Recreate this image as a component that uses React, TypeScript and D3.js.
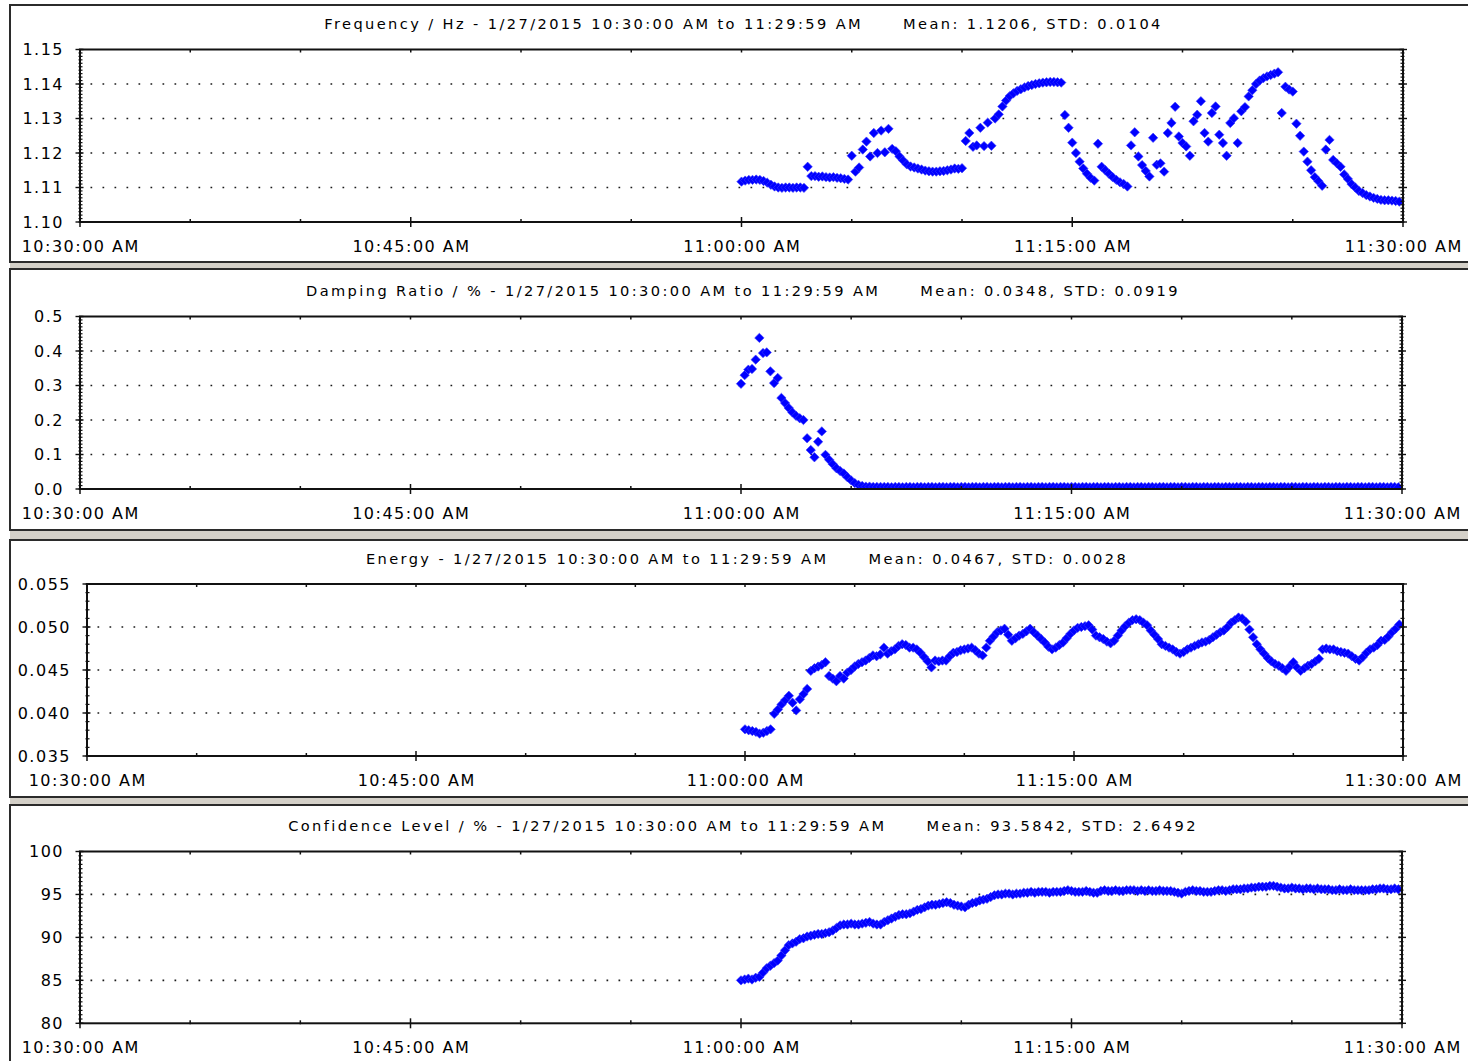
import React from "react";
import * as d3 from "d3";

// ---- time axis ----
const windowStart = new Date(2015, 0, 27, 10, 30, 0);
const windowEnd = new Date(2015, 0, 27, 11, 30, 0);
const sampleStart = new Date(2015, 0, 27, 11, 0, 0);
const sampleStepSec = 10;
const rangeText = "1/27/2015 10:30:00 AM to 11:29:59 AM";

// ---- series (one sample every 10 s from 11:00:00) ----
const frequency = [
  1.1117, 1.1120, 1.1122, 1.1122, 1.1123, 1.1122, 1.1119, 1.1114, 1.1108, 1.1103,
  1.1100, 1.1099, 1.1100, 1.1100, 1.1099, 1.1100, 1.1100, 1.1099, 1.1160, 1.1133,
  1.1133, 1.1131, 1.1132, 1.1130, 1.1129, 1.1130, 1.1128, 1.1127, 1.1125, 1.1123,
  1.1192, 1.1146, 1.1158, 1.1210, 1.1233, 1.1190, 1.1258, 1.1200, 1.1265, 1.1202,
  1.1270, 1.1212, 1.1205, 1.1190, 1.1178, 1.1167, 1.1161, 1.1158, 1.1155, 1.1152,
  1.1149, 1.1147, 1.1146, 1.1146, 1.1147, 1.1148, 1.1150, 1.1152, 1.1155, 1.1154,
  1.1156, 1.1235, 1.1258, 1.1218, 1.1222, 1.1273, 1.1220, 1.1288, 1.1221, 1.1300,
  1.1312, 1.1335, 1.1352, 1.1365, 1.1373, 1.1380, 1.1385, 1.1390, 1.1394, 1.1397,
  1.1400, 1.1402, 1.1404, 1.1405, 1.1406, 1.1406, 1.1405, 1.1404, 1.1310, 1.1273,
  1.1230, 1.1200, 1.1175, 1.1155, 1.1140, 1.1128, 1.1120, 1.1227, 1.1160, 1.1150,
  1.1140, 1.1130, 1.1122, 1.1115, 1.1110, 1.1103, 1.1222, 1.1260, 1.1190, 1.1165,
  1.1148, 1.1132, 1.1244, 1.1166, 1.1170, 1.1146, 1.1258, 1.1287, 1.1334, 1.1248,
  1.1229, 1.1219, 1.1192, 1.1292, 1.1311, 1.1350, 1.1258, 1.1233, 1.1316, 1.1335,
  1.1253, 1.1229, 1.1192, 1.1287, 1.1301, 1.1229, 1.1321, 1.1333, 1.1364, 1.1382,
  1.1400, 1.1410, 1.1417, 1.1422, 1.1426, 1.1430, 1.1434, 1.1316, 1.1392, 1.1384,
  1.1378, 1.1285, 1.1250, 1.1204, 1.1175, 1.1150, 1.1130, 1.1118, 1.1105, 1.1210,
  1.1238, 1.1180, 1.1170, 1.1160, 1.1138, 1.1125, 1.1110, 1.1100, 1.1090, 1.1084,
  1.1078, 1.1074, 1.1070, 1.1067, 1.1064, 1.1063, 1.1063, 1.1062, 1.1061, 1.1059,
];

const dampingRatio = [
  0.305, 0.330, 0.346, 0.348, 0.375, 0.438, 0.394, 0.396, 0.341, 0.307,
  0.322, 0.264, 0.249, 0.235, 0.222, 0.212, 0.205, 0.200, 0.147, 0.113,
  0.092, 0.137, 0.167, 0.099, 0.085, 0.072, 0.060, 0.052, 0.045, 0.034,
  0.025, 0.017, 0.012, 0.009, 0.007, 0.007, 0.006, 0.006, 0.006, 0.006,
  0.006, 0.005, 0.006, 0.006, 0.005, 0.006, 0.006, 0.005, 0.006, 0.006,
  0.005, 0.006, 0.006, 0.005, 0.006, 0.006, 0.005, 0.006, 0.006, 0.005,
  0.006, 0.006, 0.005, 0.006, 0.006, 0.005, 0.006, 0.006, 0.005, 0.006,
  0.006, 0.005, 0.006, 0.006, 0.005, 0.006, 0.006, 0.005, 0.006, 0.006,
  0.005, 0.006, 0.006, 0.005, 0.006, 0.006, 0.005, 0.006, 0.006, 0.005,
  0.006, 0.006, 0.005, 0.006, 0.006, 0.005, 0.006, 0.006, 0.005, 0.006,
  0.006, 0.005, 0.006, 0.006, 0.005, 0.006, 0.006, 0.005, 0.006, 0.006,
  0.005, 0.006, 0.006, 0.005, 0.006, 0.006, 0.005, 0.006, 0.006, 0.005,
  0.006, 0.006, 0.005, 0.006, 0.006, 0.005, 0.006, 0.006, 0.005, 0.006,
  0.006, 0.005, 0.006, 0.006, 0.005, 0.006, 0.006, 0.005, 0.006, 0.006,
  0.005, 0.006, 0.006, 0.005, 0.006, 0.006, 0.005, 0.006, 0.006, 0.005,
  0.006, 0.006, 0.005, 0.006, 0.006, 0.005, 0.006, 0.006, 0.005, 0.006,
  0.006, 0.005, 0.006, 0.006, 0.005, 0.006, 0.006, 0.005, 0.006, 0.006,
  0.005, 0.006, 0.006, 0.005, 0.006, 0.006, 0.005, 0.006, 0.006, 0.005,
];

const energy = [
  0.0381, 0.0380, 0.0379, 0.0378, 0.0376, 0.0377, 0.0379, 0.0381, 0.0399, 0.0404,
  0.0410, 0.0415, 0.0420, 0.0412, 0.0403, 0.0416, 0.0422, 0.0428, 0.0449, 0.0452,
  0.0454, 0.0456, 0.0459, 0.0443, 0.0440, 0.0437, 0.0443, 0.0440, 0.0447, 0.0450,
  0.0454, 0.0457, 0.0459, 0.0461, 0.0464, 0.0467, 0.0466, 0.0468, 0.0476, 0.0469,
  0.0472, 0.0474, 0.0478, 0.0480, 0.0479, 0.0476, 0.0476, 0.0474, 0.0470, 0.0465,
  0.0460, 0.0453, 0.0461, 0.0460, 0.0461, 0.0461, 0.0466, 0.0470, 0.0471, 0.0473,
  0.0474, 0.0475, 0.0476, 0.0473, 0.0469, 0.0467, 0.0476, 0.0484, 0.0489, 0.0494,
  0.0496, 0.0498, 0.0491, 0.0484, 0.0487, 0.0490, 0.0492, 0.0495, 0.0498, 0.0494,
  0.0490, 0.0486, 0.0482, 0.0477, 0.0474, 0.0476, 0.0479, 0.0482, 0.0487, 0.0492,
  0.0496, 0.0499, 0.0500, 0.0501, 0.0502, 0.0497, 0.0490, 0.0488, 0.0486, 0.0483,
  0.0481, 0.0484, 0.0490, 0.0496, 0.0501, 0.0505, 0.0508, 0.0509, 0.0508, 0.0505,
  0.0502, 0.0496, 0.0491, 0.0486, 0.0480, 0.0478, 0.0476, 0.0474, 0.0471, 0.0469,
  0.0471, 0.0474, 0.0476, 0.0478, 0.0480, 0.0482, 0.0483, 0.0485, 0.0488, 0.0491,
  0.0494, 0.0496, 0.0500, 0.0505, 0.0508, 0.0511, 0.0510, 0.0506, 0.0497, 0.0488,
  0.0480, 0.0474, 0.0469, 0.0464, 0.0460, 0.0457, 0.0455, 0.0452, 0.0449, 0.0454,
  0.0459, 0.0453, 0.0449, 0.0452, 0.0455, 0.0457, 0.0460, 0.0463, 0.0474, 0.0475,
  0.0474, 0.0474, 0.0472, 0.0471, 0.0470, 0.0469, 0.0466, 0.0463, 0.0461, 0.0465,
  0.0470, 0.0474, 0.0476, 0.0479, 0.0484, 0.0485, 0.0489, 0.0494, 0.0498, 0.0503,
];

const confidenceLevel = [
  85.0, 85.1, 85.2, 85.1, 85.3, 85.4, 85.9, 86.4, 86.7, 87.0,
  87.3, 87.9, 88.5, 89.1, 89.3, 89.5, 89.8, 89.9, 90.1, 90.2,
  90.3, 90.4, 90.4, 90.5, 90.6, 90.8, 91.1, 91.4, 91.5, 91.5,
  91.6, 91.5, 91.5, 91.6, 91.7, 91.8, 91.6, 91.5, 91.5, 91.8,
  92.0, 92.2, 92.4, 92.6, 92.7, 92.7, 92.8, 93.0, 93.2, 93.3,
  93.5, 93.7, 93.8, 93.8, 93.9, 94.0, 94.1, 94.0, 93.8, 93.7,
  93.6, 93.5, 93.8, 94.0, 94.1, 94.3, 94.4, 94.5, 94.7, 94.9,
  95.0, 95.0, 95.1, 95.1, 95.0, 95.1, 95.1, 95.2, 95.2, 95.3,
  95.2, 95.3, 95.3, 95.3, 95.2, 95.3, 95.3, 95.3, 95.4, 95.5,
  95.4, 95.3, 95.3, 95.3, 95.4, 95.3, 95.2, 95.2, 95.4, 95.5,
  95.4, 95.4, 95.5, 95.4, 95.4, 95.5, 95.5, 95.5, 95.4, 95.5,
  95.4, 95.5, 95.4, 95.4, 95.5, 95.4, 95.4, 95.4, 95.3, 95.2,
  95.1, 95.3, 95.4, 95.5, 95.4, 95.4, 95.3, 95.3, 95.3, 95.4,
  95.5, 95.5, 95.4, 95.5, 95.6, 95.6, 95.6, 95.7, 95.7, 95.8,
  95.8, 95.9, 95.9, 95.9, 96.0, 96.0, 95.9, 95.8, 95.7, 95.7,
  95.8, 95.7, 95.7, 95.6, 95.7, 95.7, 95.6, 95.7, 95.6, 95.6,
  95.6, 95.5, 95.5, 95.6, 95.5, 95.5, 95.6, 95.5, 95.5, 95.5,
  95.5, 95.5, 95.6, 95.6, 95.7, 95.7, 95.6, 95.6, 95.7, 95.6,
];

// ---- per-chart descriptors ----
const seriesNames = ["Frequency / Hz", "Damping Ratio / %", "Energy", "Confidence Level / %"];
const seriesValues = [frequency, dampingRatio, energy, confidenceLevel];
const seriesMeans = ["1.1206", "0.0348", "0.0467", "93.5842"];
const seriesStds = ["0.0104", "0.0919", "0.0028", "2.6492"];
const yDomains: [number, number][] = [[1.10, 1.15], [0, 0.5], [0.035, 0.055], [80, 100]];
const yMajorSteps = [0.01, 0.1, 0.005, 5];
const yMinorSteps = [0.001, 0.01, 0.001, 0.5];
const yFormats = [".2f", ".1f", ".3f", "d"];

// ---- page geometry ----
const W = 1468;
const H = 1061;
const frames = [
  { top: 5, bottom: 262, left: 80, right: 1403, plotTop: 49.5, plotBottom: 222 },
  { top: 269, bottom: 530, left: 80, right: 1402, plotTop: 316.5, plotBottom: 489 },
  { top: 540, bottom: 797, left: 87, right: 1403, plotTop: 584, plotBottom: 756 },
  { top: 805, bottom: 1080, left: 80, right: 1402, plotTop: 851.5, plotBottom: 1023.3 },
];

const FONT = "'DejaVu Sans', Verdana, sans-serif";
const timeLabel = d3.timeFormat("%-I:%M:%S %p");

function diamond(cx: number, cy: number, r: number) {
  return `M${cx},${cy - r}L${cx + r},${cy}L${cx},${cy + r}L${cx - r},${cy}Z`;
}

function Chart({ k }: { k: number }) {
  const f = frames[k];
  const [d0, d1] = yDomains[k];
  const x = d3.scaleTime().domain([windowStart, windowEnd]).range([f.left, f.right]);
  const y = d3.scaleLinear().domain([d0, d1]).range([f.plotBottom, f.plotTop]);

  const nMajor = Math.round((d1 - d0) / yMajorSteps[k]);
  const majors = d3.range(nMajor + 1).map((i) => d0 + i * yMajorSteps[k]);
  const nMinor = Math.round((d1 - d0) / yMinorSteps[k]);
  const minors = d3.range(nMinor + 1).map((i) => d0 + i * yMinorSteps[k]);
  const fmt = d3.format(yFormats[k]);

  const timeTicks = d3.timeMinute.every(5)!.range(windowStart, new Date(+windowEnd + 1000));
  const isMajorTime = (t: Date) => t.getMinutes() % 15 === 0;

  const points = seriesValues[k].map((v, i) => ({
    t: new Date(+sampleStart + i * sampleStepSec * 1000),
    v,
  }));

  const clipId = `plot-clip-${k}`;
  const cx = (f.left + f.right) / 2;

  return (
    <g>
      {/* panel */}
      <rect x={10} y={f.top} width={W + 20} height={f.bottom - f.top} fill="#ffffff" stroke="#2b2b2b" strokeWidth={2} />

      {/* title */}
      <text x={cx + 2} y={f.plotTop - 20.5} textAnchor="middle" fontFamily={FONT} fontSize={14.6} letterSpacing={2.4} fill="#000">
        <tspan>{`${seriesNames[k]} - ${rangeText}`}</tspan>
        <tspan dx={40}>{`Mean: ${seriesMeans[k]}, STD: ${seriesStds[k]}`}</tspan>
      </text>

      <defs>
        <clipPath id={clipId}>
          <rect x={f.left} y={f.plotTop} width={f.right - f.left} height={f.plotBottom - f.plotTop} />
        </clipPath>
      </defs>

      {/* dotted grid */}
      {majors.slice(1, -1).map((m) => (
        <line key={`g${m}`} x1={f.left + 10.5} x2={f.right - 1} y1={y(m)} y2={y(m)}
          stroke="#1a1a1a" strokeWidth={1.7} strokeDasharray="1.7 10.3" />
      ))}

      {/* markers */}
      <g clipPath={`url(#${clipId})`}>
        {points.map((p, i) => (
          <path key={i} d={diamond(x(p.t), y(p.v), 4.7)} fill="#0000ff" stroke="#3b3bff" strokeWidth={0.6} />
        ))}
      </g>

      {/* frame */}
      <rect x={f.left} y={f.plotTop} width={f.right - f.left} height={f.plotBottom - f.plotTop}
        fill="none" stroke="#111" strokeWidth={2} />

      {/* y ticks */}
      {minors.map((m) => (
        <g key={`mn${m}`}>
          <line x1={f.left - 1.5} x2={f.left + 2.5} y1={y(m)} y2={y(m)} stroke="#111" strokeWidth={1.2} />
          <line x1={f.right - 2.5} x2={f.right + 1.5} y1={y(m)} y2={y(m)} stroke="#111" strokeWidth={1.2} />
        </g>
      ))}
      {majors.map((m) => (
        <g key={`mj${m}`}>
          <line x1={f.left - 4.5} x2={f.left + 3.5} y1={y(m)} y2={y(m)} stroke="#111" strokeWidth={1.4} />
          <line x1={f.right - 3.5} x2={f.right + 4} y1={y(m)} y2={y(m)} stroke="#111" strokeWidth={1.4} />
          <text x={f.left - 16} y={y(m) + 5.8} textAnchor="end" fontFamily={FONT} fontSize={16}
            letterSpacing={1.5} fill="#000">{fmt(m)}</text>
        </g>
      ))}

      {/* x ticks */}
      {timeTicks.map((t) => {
        const tx = x(t);
        const major = isMajorTime(t);
        return (
          <g key={+t}>
            <line x1={tx} x2={tx} y1={f.plotTop} y2={f.plotTop + 3} stroke="#111" strokeWidth={1.5} />
            <line x1={tx} x2={tx} y1={f.plotBottom - (major ? 5 : 3)} y2={f.plotBottom + (major ? 5 : 1)}
              stroke="#111" strokeWidth={1.5} />
            {major && (
              <text x={tx + 0.75} y={f.plotBottom + 30} textAnchor="middle" fontFamily={FONT} fontSize={16}
                letterSpacing={1.5} fill="#000">{timeLabel(t)}</text>
            )}
          </g>
        );
      })}
    </g>
  );
}

export default function App() {
  return (
    <svg width={W} height={H} viewBox={`0 0 ${W} ${H}`}
      style={{ position: "absolute", left: 0, top: 0, display: "block" }}>
      <rect width={W} height={H} fill="#ffffff" />
      {frames.slice(0, -1).map((f, k) => (
        <rect key={`sep${k}`} x={10} y={f.bottom} width={W} height={frames[k + 1].top - f.bottom} fill="#d4d0c8" />
      ))}
      {frames.map((_, k) => <Chart key={k} k={k} />)}
    </svg>
  );
}
